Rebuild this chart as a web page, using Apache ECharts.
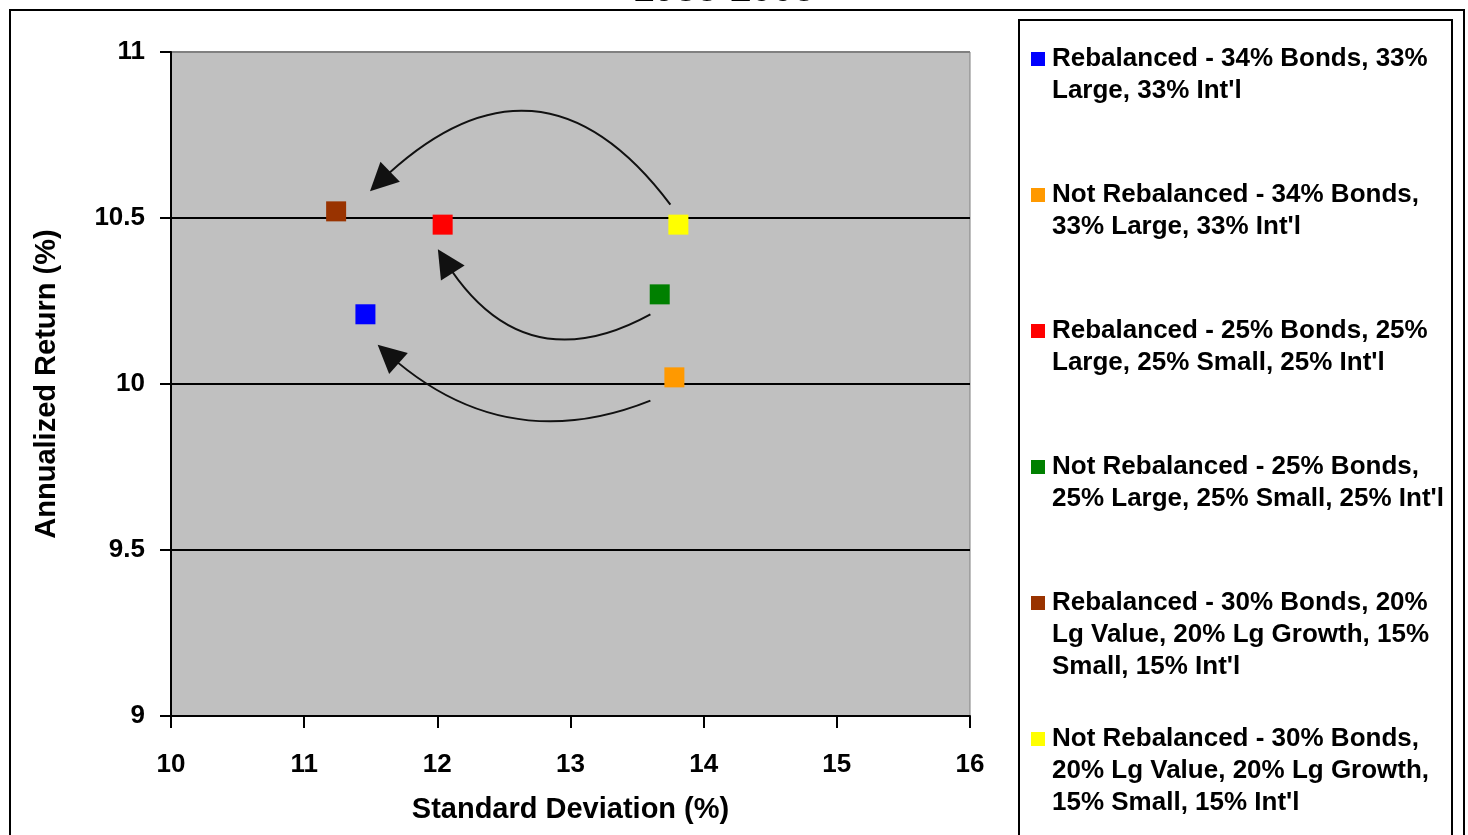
<!DOCTYPE html>
<html><head><meta charset="utf-8">
<script src="https://cdn.jsdelivr.net/npm/echarts@6/dist/echarts.min.js"></script>
<style>html,body{margin:0;padding:0;background:#fff}#c{width:1468px;height:835px}</style>
</head><body><div id="c"></div>
<script>
const chartTitle = "1985-2005";
const seriesNames = [
  "Rebalanced - 34% Bonds, 33%\nLarge, 33% Int'l",
  "Not Rebalanced - 34% Bonds,\n33% Large, 33% Int'l",
  "Rebalanced - 25% Bonds, 25%\nLarge, 25% Small, 25% Int'l",
  "Not Rebalanced - 25% Bonds,\n25% Large, 25% Small, 25% Int'l",
  "Rebalanced - 30% Bonds, 20%\nLg Value, 20% Lg Growth, 15%\nSmall, 15% Int'l",
  "Not Rebalanced - 30% Bonds,\n20% Lg Value, 20% Lg Growth,\n15% Small, 15% Int'l"
];
const seriesColors = ["#0000FF", "#FF9900", "#FF0000", "#008000", "#993300", "#FFFF00"];
const stdDev    = [11.46, 13.78, 12.04, 13.67, 11.24, 13.81];
const annReturn = [10.21, 10.02, 10.48, 10.27, 10.52, 10.48];
// curved arrows (data coordinates): from -> to
const arrowFrom = [[13.75, 10.54], [13.60, 10.21], [13.60, 9.95]];
const arrowTo   = [[11.57, 10.61], [12.06, 10.37], [11.63, 10.09]];
const arrowCurve = [-0.565, 0.47, 0.31];
const xAxisMin = 10, xAxisMax = 16, xAxisStep = 1;
const yAxisMin = 9, yAxisMax = 11, yAxisStep = 0.5;
const xAxisTitle = "Standard Deviation (%)";
const yAxisTitle = "Annualized Return (%)";

const FONT = "Liberation Sans, Arial, sans-serif";
const chart = echarts.init(document.getElementById('c'));

const scatterSeries = seriesNames.map((name, i) => ({
  type: 'scatter', name: name,
  data: [[stdDev[i], annReturn[i]]],
  symbol: 'rect', symbolSize: 20,
  itemStyle: { color: seriesColors[i], opacity: 1 },
  z: 5
}));

const arrowSeries = {
  type: 'lines', coordinateSystem: 'cartesian2d',
  symbol: ['none', 'triangle'], symbolSize: [25, 28],
  lineStyle: { color: '#111', width: 2, opacity: 1 },
  silent: true, z: 4,
  data: arrowFrom.map((f, i) => ({ coords: [f, arrowTo[i]], lineStyle: { curveness: arrowCurve[i] } }))
};

const legendLineH = 32;
const legendStart = 54, legendStep = 136;
const legends = seriesNames.map((name, i) => {
  const rich = {
    t: { fontFamily: FONT, fontSize: 26, fontWeight: 'bold', color: '#000', lineHeight: legendLineH },
    sp: { width: 21, height: 14 },
    g: { width: 7, height: 14 }
  };
  rich['sq' + i] = { backgroundColor: seriesColors[i], width: 14, height: 14 };
  return {
    data: [{ name: name }],
    left: 1021,
    top: legendStart + legendStep * i - legendLineH / 2,
    itemWidth: 0, itemHeight: 0, selectedMode: false,
    itemStyle: { opacity: 0 },
    formatter: function (nm) {
      return nm.split('\n').map((l, k) => (k === 0 ? '{sq' + i + '|}{g|}' : '{sp|}') + '{t|' + l + '}').join('\n');
    },
    textStyle: { fontFamily: FONT, fontSize: 26, fontWeight: 'bold', color: '#000', lineHeight: legendLineH, rich: rich }
  };
});

chart.setOption({
  animation: false,
  backgroundColor: '#fff',
  title: { text: chartTitle, left: 628, top: -33,
    textStyle: { fontFamily: FONT, fontSize: 38, fontWeight: 'bold', color: '#000' } },
  grid: { left: 171, right: 498, top: 52, bottom: 119, show: true,
    backgroundColor: '#C0C0C0', borderColor: '#808080', borderWidth: 1 },
  xAxis: {
    type: 'value', min: xAxisMin, max: xAxisMax, interval: xAxisStep,
    name: xAxisTitle, nameLocation: 'middle', nameGap: 79,
    nameTextStyle: { fontFamily: FONT, fontSize: 29, fontWeight: 'bold', color: '#000' },
    axisLine: { show: true, onZero: false, lineStyle: { color: '#000', width: 2 } },
    axisTick: { show: true, inside: false, length: 12, lineStyle: { color: '#000', width: 2 } },
    axisLabel: { margin: 36, fontFamily: FONT, fontSize: 26, fontWeight: 'bold', color: '#000' },
    splitLine: { show: false }
  },
  yAxis: {
    type: 'value', min: yAxisMin, max: yAxisMax, interval: yAxisStep,
    name: yAxisTitle, nameLocation: 'middle', nameGap: 110, nameRotate: 90,
    nameTextStyle: { fontFamily: FONT, fontSize: 29, fontWeight: 'bold', color: '#000' },
    axisLine: { show: true, onZero: false, lineStyle: { color: '#000', width: 2 } },
    axisTick: { show: true, inside: false, length: 11, lineStyle: { color: '#000', width: 2 } },
    axisLabel: { margin: 26, fontFamily: FONT, fontSize: 26, fontWeight: 'bold', color: '#000',
      formatter: v => String(v) },
    splitLine: { show: true, lineStyle: { color: ['#000', '#000', '#000', '#000', '#808080'], width: 2 } }
  },
  legend: legends,
  graphic: [
    { type: 'rect', shape: { x: 10, y: 10, width: 1454, height: 840 },
      style: { fill: 'none', stroke: '#000', lineWidth: 2 }, silent: true, z: -1 },
    { type: 'rect', shape: { x: 1019, y: 20, width: 433, height: 830 },
      style: { fill: '#fff', stroke: '#000', lineWidth: 2 }, silent: true, z: -1 }
  ],
  series: [arrowSeries].concat(scatterSeries)
});
</script></body></html>
